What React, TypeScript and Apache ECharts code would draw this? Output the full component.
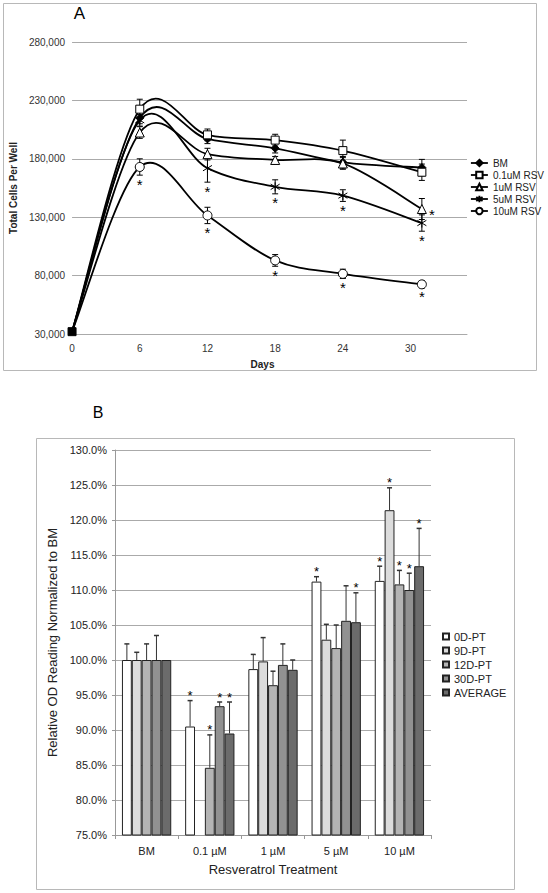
import React, { useEffect, useRef } from 'react';
import * as echarts from 'echarts';

const FONT = '"Liberation Sans", Arial, Helvetica, sans-serif';

// ---------- Panel A data ----------
const DAYS = [0, 6, 12, 18, 24, 31];
const SERIES_A = ['BM', '0.1uM RSV', '1uM RSV', '5uM RSV', '10uM RSV'];
const BM = [32000, 215000, 197000, 189000, 177000, 172500];
const RSV01 = [32000, 222500, 200500, 196000, 187000, 168500];
const RSV1 = [32000, 202500, 184000, 179000, 176000, 137000];
const RSV5 = [32000, 213000, 172000, 156000, 148500, 125000];
const RSV10 = [32000, 173000, 131500, 93000, 81500, 72500];
const ERR_BM = [0, 5000, 4000, 4000, 5000, 7000];
const ERR_01 = [0, 8500, 5000, 5000, 9000, 7000];
const ERR_1 = [0, 5000, 5000, 3000, 5000, 9000];
const ERR_5 = [0, 5000, 12000, 6000, 5000, 7000];
const ERR_10 = [0, 7000, 7000, 5000, 4000, 3000];
// 0 = none, 1 = star below, 2 = star to the right
const SIG_BM = [0, 0, 0, 0, 0, 0];
const SIG_01 = [0, 0, 0, 0, 0, 0];
const SIG_1 = [0, 0, 0, 0, 0, 2];
const SIG_5 = [0, 0, 1, 1, 1, 1];
const SIG_10 = [0, 1, 1, 1, 1, 1];

// ---------- Panel B data ----------
const CATS_B = ['BM', '0.1 µM', '1 µM', '5 µM', '10 µM'];
const SERIES_B = ['0D-PT', '9D-PT', '12D-PT', '30D-PT', 'AVERAGE'];
const D0 = [100, 90.5, 98.7, 111.2, 111.3];
const D9 = [100, null, 99.8, 102.9, 121.4];
const D12 = [100, 84.6, 96.4, 101.7, 110.8];
const D30 = [100, 93.4, 99.3, 105.6, 110.0];
const DAVG = [100, 89.5, 98.6, 105.4, 113.4];
const E0 = [2.3, 3.7, 2.1, 0.7, 2.1];
const E9 = [1.1, 0, 3.4, 2.2, 3.2];
const E12 = [2.3, 4.7, 2.0, 3.3, 2.0];
const E30 = [3.5, 0.6, 3.0, 5.0, 2.4];
const EAVG = [0, 4.5, 1.4, 4.2, 5.4];
const S0 = [0, 1, 0, 1, 1];
const S9 = [0, 0, 0, 0, 1];
const S12 = [0, 1, 0, 0, 1];
const S30 = [0, 1, 0, 0, 1];
const SAVG = [0, 1, 0, 1, 1];

const A_VALUES = [BM, RSV01, RSV1, RSV5, RSV10];
const A_ERRS = [ERR_BM, ERR_01, ERR_1, ERR_5, ERR_10];
const A_SIGS = [SIG_BM, SIG_01, SIG_1, SIG_5, SIG_10];
const ASTERISK = 'path://M5 0 L5 10 M0.8 2 L9.2 8 M9.2 2 L0.8 8';
const A_SYMBOLS = ['diamond', 'rect', 'triangle', ASTERISK, 'circle'];
const A_SIZES = [8, 8, 9, 9, 9];
const A_FILLS = ['#000', '#fff', '#fff', 'rgba(0,0,0,0)', '#fff'];

const B_VALUES = [D0, D9, D12, D30, DAVG];
const B_ERRS = [E0, E9, E12, E30, EAVG];
const B_SIGS = [S0, S9, S12, S30, SAVG];
const B_COLORS = ['#ffffff', '#dcdcdc', '#b4b4b4', '#919191', '#6b6b6b'];
const CAT_GAP = 0.22;
const LINE_W = 1.8;

function buildOption() {
  const errA: number[][] = [];
  A_VALUES.forEach((vals, i) =>
    vals.forEach((v, j) => errA.push([DAYS[j], v, A_ERRS[i][j], A_SIGS[i][j]]))
  );
  const errB: number[][] = [];
  B_VALUES.forEach((vals, si) =>
    vals.forEach((v, ci) => {
      if (v !== null) errB.push([ci, si, v as number, B_ERRS[si][ci], B_SIGS[si][ci]]);
    })
  );

  const starStyle = (text: string, size: number) => ({
    text,
    fill: '#000',
    font: `${size}px ${FONT}`,
    align: 'center',
    verticalAlign: 'middle',
    textAlign: 'center',
    textVerticalAlign: 'middle',
  });

  // Excel-like smoothed curves (Catmull-Rom, tension 1/6), drawn through the axes' scales
  const curveSeries = A_VALUES.map((vals) => ({
    type: 'custom',
    xAxisIndex: 0,
    yAxisIndex: 0,
    silent: true,
    z: 3,
    encode: { x: 0, y: 1 },
    data: vals.map((v, j) => [DAYS[j], v]),
    renderItem: (params: any, api: any) => {
      const j = params.dataIndexInside;
      const n = params.dataInsideLength;
      if (j >= n - 1) return { type: 'group', children: [] };
      const pt = (k: number) => {
        const kk = Math.max(0, Math.min(n - 1, k));
        return api.coord([api.value(0, kk), api.value(1, kk)]);
      };
      const p0 = pt(j - 1);
      const p1 = pt(j);
      const p2 = pt(j + 1);
      const p3 = pt(j + 2);
      return {
        type: 'bezierCurve',
        shape: {
          x1: p1[0],
          y1: p1[1],
          x2: p2[0],
          y2: p2[1],
          cpx1: p1[0] + (p2[0] - p0[0]) / 6,
          cpy1: p1[1] + (p2[1] - p0[1]) / 6,
          cpx2: p2[0] - (p3[0] - p1[0]) / 6,
          cpy2: p2[1] - (p3[1] - p1[1]) / 6,
        },
        style: { stroke: '#000', lineWidth: LINE_W, fill: 'none' },
      };
    },
  }));

  const lineSeries = A_VALUES.map((vals, i) => ({
    type: 'line',
    name: SERIES_A[i],
    xAxisIndex: 0,
    yAxisIndex: 0,
    symbol: A_SYMBOLS[i],
    symbolSize: A_SIZES[i],
    showAllSymbol: true,
    lineStyle: { color: '#000', width: LINE_W, opacity: 0 },
    itemStyle: { color: A_FILLS[i], borderColor: '#000', borderWidth: 1 },
    z: 5,
    data: vals.map((v, j) =>
      j === 0
        ? {
            value: [DAYS[j], v],
            symbol: i === 0 ? 'rect' : 'none',
            symbolSize: 8,
            itemStyle: { color: '#000', borderColor: '#000' },
          }
        : [DAYS[j], v]
    ),
  }));

  const errSeriesA = {
    type: 'custom',
    xAxisIndex: 0,
    yAxisIndex: 0,
    silent: true,
    z: 4,
    encode: { x: 0, y: 1 },
    data: errA,
    renderItem: (_p: any, api: any) => {
      const x = api.value(0);
      const y = api.value(1);
      const e = api.value(2);
      const sig = api.value(3);
      const top = api.coord([x, y + e]);
      const bot = api.coord([x, y - e]);
      const mid = api.coord([x, y]);
      const children: any[] = [];
      const ls = { stroke: '#000', lineWidth: 1 };
      if (e > 0) {
        children.push({ type: 'line', shape: { x1: top[0], y1: top[1], x2: bot[0], y2: bot[1] }, style: ls });
        children.push({ type: 'line', shape: { x1: top[0] - 3, y1: top[1], x2: top[0] + 3, y2: top[1] }, style: ls });
        children.push({ type: 'line', shape: { x1: bot[0] - 3, y1: bot[1], x2: bot[0] + 3, y2: bot[1] }, style: ls });
      }
      if (sig === 1) {
        children.push({ type: 'text', x: bot[0], y: bot[1] + 9, style: starStyle('*', 15) });
      } else if (sig === 2) {
        children.push({ type: 'text', x: mid[0] + 10, y: mid[1] + 5, style: starStyle('*', 15) });
      }
      return { type: 'group', children };
    },
  };

  const barSeries = B_VALUES.map((vals, i) => ({
    type: 'bar',
    name: SERIES_B[i],
    xAxisIndex: 1,
    yAxisIndex: 1,
    data: vals,
    barGap: '0%',
    barCategoryGap: `${CAT_GAP * 100}%`,
    itemStyle: { color: B_COLORS[i], borderColor: '#222', borderWidth: 1 },
    z: 2,
  }));

  const errSeriesB = {
    type: 'custom',
    xAxisIndex: 1,
    yAxisIndex: 1,
    silent: true,
    z: 3,
    encode: { x: 0, y: 2 },
    data: errB,
    renderItem: (_p: any, api: any) => {
      const ci = api.value(0);
      const si = api.value(1);
      const v = api.value(2);
      const e = api.value(3);
      const sig = api.value(4);
      const band = api.size([1, 0])[0];
      const group = band * (1 - CAT_GAP);
      const bw = group / SERIES_B.length;
      const c = api.coord([ci, v]);
      const x = c[0] - group / 2 + (si + 0.5) * bw;
      const yTop = api.coord([ci, v + e])[1];
      const children: any[] = [];
      const ls = { stroke: '#333', lineWidth: 1 };
      if (e > 0) {
        children.push({ type: 'line', shape: { x1: x, y1: c[1], x2: x, y2: yTop }, style: ls });
        children.push({ type: 'line', shape: { x1: x - 2.5, y1: yTop, x2: x + 2.5, y2: yTop }, style: { stroke: '#333', lineWidth: 1.5 } });
      }
      if (sig === 1) {
        children.push({ type: 'text', x, y: yTop - 5, style: starStyle('*', 13) });
      }
      return { type: 'group', children };
    },
  };

  const grey = '#aaaaaa';

  return {
    animation: false,
    backgroundColor: '#ffffff',
    textStyle: { fontFamily: FONT },
    graphic: [
      { type: 'rect', silent: true, shape: { x: 3.5, y: 3.5, width: 533, height: 367 }, style: { fill: 'none', stroke: '#b8b8b8', lineWidth: 1 } },
      { type: 'rect', silent: true, shape: { x: 36.5, y: 438.5, width: 478, height: 451 }, style: { fill: 'none', stroke: '#b8b8b8', lineWidth: 1 } },
      { type: 'text', x: 79.5, y: 13, style: { text: 'A', fill: '#000', font: `17px ${FONT}`, align: 'center', verticalAlign: 'middle', textAlign: 'center', textVerticalAlign: 'middle' } },
      { type: 'text', x: 98, y: 412.5, style: { text: 'B', fill: '#000', font: `16px ${FONT}`, align: 'center', verticalAlign: 'middle', textAlign: 'center', textVerticalAlign: 'middle' } },
    ],
    legend: [
      {
        data: SERIES_A.map((name) => ({
          name,
          lineStyle: { color: '#000', width: LINE_W, opacity: 1 },
        })),
        orient: 'vertical',
        left: 465,
        top: 153,
        itemWidth: 17,
        itemHeight: 8,
        itemGap: 2,
        textStyle: { fontSize: 10, color: '#222', fontFamily: FONT },
      },
      {
        data: SERIES_B,
        orient: 'vertical',
        left: 437,
        top: 626,
        itemWidth: 6,
        itemHeight: 6,
        itemGap: 3,
        icon: 'rect',
        textStyle: { fontSize: 11, color: '#222', fontFamily: FONT },
      },
    ],
    grid: [
      { left: 62, top: 42, width: 405, height: 292 },
      { left: 115, top: 450, width: 316, height: 385 },
    ],
    xAxis: [
      {
        gridIndex: 0,
        type: 'value',
        min: 0,
        max: 35,
        interval: 6,
        axisLine: { show: true, lineStyle: { color: grey } },
        axisTick: { show: false },
        splitLine: { show: false },
        axisLabel: { fontSize: 10, color: '#333', margin: 9, showMaxLabel: false, fontFamily: FONT },
        name: 'Days',
        nameLocation: 'middle',
        nameGap: 25,
        nameTextStyle: { fontWeight: 'bold', fontSize: 10, color: '#222', fontFamily: FONT, padding: [0, 14, 0, 0] },
      },
      {
        gridIndex: 1,
        type: 'category',
        data: CATS_B,
        axisLine: { show: true, lineStyle: { color: '#999' } },
        axisTick: { show: true, length: 4, lineStyle: { color: '#999' } },
        axisLabel: { fontSize: 11, color: '#222', margin: 10, fontFamily: FONT },
        name: 'Resveratrol Treatment',
        nameLocation: 'middle',
        nameGap: 28,
        nameTextStyle: { fontSize: 13, color: '#222', fontFamily: FONT },
      },
    ],
    yAxis: [
      {
        gridIndex: 0,
        type: 'value',
        min: 30000,
        max: 280000,
        interval: 50000,
        axisLine: { show: false },
        axisTick: { show: false },
        splitLine: { show: true, lineStyle: { color: grey } },
        axisLabel: {
          fontSize: 10,
          color: '#333',
          margin: 7,
          fontFamily: FONT,
          formatter: (v: number) => v.toLocaleString('en-US'),
        },
        name: 'Total Cells Per Well',
        nameLocation: 'middle',
        nameGap: 46,
        nameTextStyle: { fontWeight: 'bold', fontSize: 10, color: '#222', fontFamily: FONT },
      },
      {
        gridIndex: 1,
        type: 'value',
        min: 75,
        max: 130,
        interval: 5,
        axisLine: { show: true, lineStyle: { color: '#999' } },
        axisTick: { show: true, length: 3, lineStyle: { color: '#999' } },
        splitLine: { show: true, lineStyle: { color: grey } },
        axisLabel: {
          fontSize: 11,
          color: '#222',
          margin: 8,
          fontFamily: FONT,
          formatter: (v: number) => v.toFixed(1) + '%',
        },
        name: 'Relative OD Reading Normalized to BM',
        nameLocation: 'middle',
        nameGap: 47,
        nameTextStyle: { fontSize: 13, color: '#222', fontFamily: FONT },
      },
    ],
    series: [...curveSeries, errSeriesA, ...lineSeries, ...barSeries, errSeriesB],
  };
}

export default function App() {
  const ref = useRef<HTMLDivElement>(null);
  useEffect(() => {
    if (!ref.current) return;
    const chart = echarts.init(ref.current, null, { renderer: 'svg' });
    chart.setOption(buildOption() as any);
    return () => chart.dispose();
  }, []);
  return (
    <div
      ref={ref}
      style={{ position: 'absolute', left: 0, top: 0, width: 548, height: 893, background: '#fff' }}
    />
  );
}
